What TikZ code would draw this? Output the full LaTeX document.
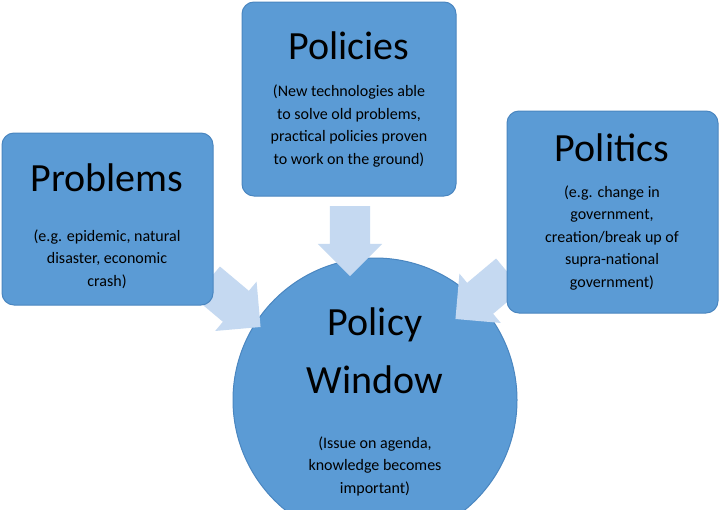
\documentclass[tikz,border=0pt]{standalone}
\usepackage{fontspec}
\setmainfont{Carlito}
\usetikzlibrary{shapes.arrows}
\definecolor{boxblue}{HTML}{5B9BD5}
\definecolor{boxline}{HTML}{4A86C0}
\definecolor{arrowblue}{HTML}{C5D9F1}
\tikzset{
  stream/.style={draw=boxline, fill=boxblue, rounded corners=12pt, line width=1pt},
  title/.style={font=\fontsize{40}{44}\selectfont},
  note/.style={font=\fontsize{16}{22.5}\selectfont, align=center},
  push/.style={single arrow, fill=arrowblue, draw=none, minimum height=70pt,
    inner xsep=0pt, inner ysep=20pt, single arrow head extend=12pt,
    single arrow tip angle=90}
}
\begin{document}
\begin{tikzpicture}[x=1pt,y=-1pt]
\useasboundingbox[fill=white] (0,0) rectangle (720,509);
% the window
\draw[draw=boxline, fill=boxblue, line width=1pt] (375,400) circle (142);
\node[title, align=center, font=\fontsize{40}{58}\selectfont] (window) at (375,351) {Policy\\Window};
\node[note] (windownote) at (375,466) {(Issue on agenda,\\knowledge becomes\\important)};
% arrows over the circle
\node[push, rotate=-90] (adown) at (350,231) {};
\node[push, rotate=-40] (aleft) at (226,298) {};
\node[push, rotate=-140] (aright) at (490,290) {};
% the three streams
\draw[stream] (2,133) rectangle (213,305);
\node[title] (problems) at (107,178) {Problems};
\node[note] (problemsnote) at (107,259) {(e.g. epidemic, natural\\disaster, economic\\crash)};
\draw[stream] (242,2) rectangle (456,196);
\node[title] (policies) at (349,46) {Policies};
\node[note] (policiesnote) at (349,126) {(New technologies able\\to solve old problems,\\practical policies proven\\to work on the ground)};
\draw[stream] (507,111) rectangle (718,313);
\node[title] (politics) at (612,148) {Politics};
\node[note] (politicsnote) at (612,238) {(e.g. change in\\government,\\creation/break up of\\supra-national\\government)};
\end{tikzpicture}
\end{document}
